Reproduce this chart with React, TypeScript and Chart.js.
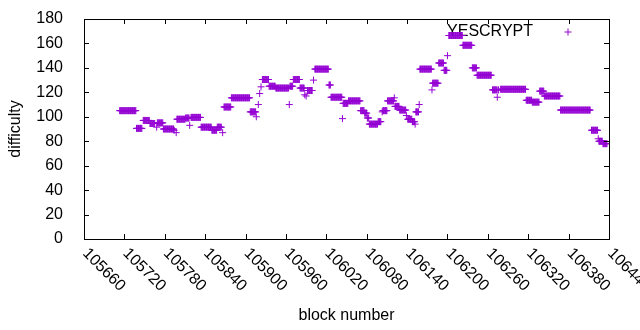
import React, { useEffect, useRef } from 'react';
import { Chart, registerables } from 'chart.js';

Chart.register(...registerables);

// ---- data ----
const seriesLabel = 'YESCRYPT';
const xTitle = 'block number';
const yTitle = 'difficulty';
const xMin = 105660;
const xMax = 106440;
const xStep = 60;
const yMin = 0;
const yMax = 180;
const yStep = 20;

// runs of consecutive blocks sharing one difficulty value
const runStart = [
  105713, 105738, 105748, 105758, 105768, 105769, 105778, 105794, 105797, 105798,
  105811, 105817, 105819, 105834, 105850, 105858, 105866, 105868, 105879, 105907,
  105916, 105919, 105921, 105923, 105925, 105935, 105945, 105965, 105966, 105971,
  105981, 105988, 105990, 105992, 106001, 106003, 106024, 106027, 106044, 106045,
  106053, 106071, 106077, 106081, 106084, 106097, 106103, 106104, 106111, 106121,
  106122, 106129, 106139, 106141, 106148, 106152, 106153, 106158, 106159, 106177,
  106178, 106187, 106195, 106200, 106202, 106223, 106237, 106244, 106267, 106274,
  106275, 106279, 106317, 106326, 106337, 106344, 106368, 106414, 106424, 106425,
  106431,
];
const runEnd = [
  105737, 105746, 105757, 105765, 105768, 105777, 105793, 105794, 105797, 105810,
  105816, 105817, 105833, 105849, 105857, 105864, 105866, 105878, 105906, 105915,
  105916, 105919, 105921, 105923, 105934, 105944, 105964, 105965, 105970, 105980,
  105987, 105988, 105990, 105999, 106001, 106023, 106026, 106043, 106044, 106052,
  106070, 106076, 106080, 106083, 106096, 106101, 106103, 106110, 106120, 106121,
  106128, 106138, 106139, 106147, 106151, 106152, 106157, 106158, 106176, 106177,
  106186, 106194, 106199, 106200, 106222, 106236, 106243, 106265, 106273, 106274,
  106276, 106316, 106325, 106336, 106343, 106367, 106412, 106423, 106424, 106430,
  106437,
];
const runValue = [
  105, 90.5, 97, 94.5, 91.5, 95, 90, 89, 87, 98,
  99, 93, 99.5, 91.5, 89, 91.5, 87, 108, 115.5, 104,
  100, 110, 119, 124.5, 130.5, 125, 123.5, 110, 125, 130.5,
  123.5, 118, 117, 121.5, 130, 139, 126, 116, 98.5, 111,
  113, 105, 103, 99, 94, 96, 104, 105, 113, 115.5,
  108.5, 105.5, 101, 98, 96, 94, 104, 110, 139, 122,
  127.5, 144, 138, 150, 166.5, 158.5, 140, 134, 122, 116,
  122, 122.5, 113.5, 112, 121, 117, 105.5, 89, 82, 80,
  78,
];

const COLOR = '#9400D3';
const FONT = "'Liberation Sans', Arial, sans-serif";

function buildPoints() {
  const pts: { x: number; y: number }[] = [];
  for (let i = 0; i < runStart.length; i++) {
    for (let b = runStart[i]; b <= runEnd[i]; b++) {
      pts.push({ x: b, y: runValue[i] });
    }
  }
  return pts;
}

const framePlugin = {
  id: 'gnuplotFrame',
  beforeDatasetsDraw(chart: any) {
    const { ctx, chartArea } = chart;
    ctx.save();
    ctx.fillStyle = '#000';
    ctx.font = `16px ${FONT}`;
    ctx.textAlign = 'right';
    ctx.textBaseline = 'middle';
    ctx.fillText(seriesLabel, chartArea.right - 76, chartArea.top + 13);
    ctx.restore();
  },
  afterDatasetsDraw(chart: any) {
    const { ctx, chartArea } = chart;
    const xs = chart.scales.x;
    const ys = chart.scales.y;
    const L = chartArea.left, R = chartArea.right, T = chartArea.top, B = chartArea.bottom;
    const tl = 5;
    ctx.save();
    ctx.strokeStyle = '#000';
    ctx.lineWidth = 1;
    ctx.beginPath();
    for (const t of ys.ticks) {
      const py = Math.round(ys.getPixelForValue(t.value)) + 0.5;
      ctx.moveTo(L, py); ctx.lineTo(L + tl, py);
      ctx.moveTo(R, py); ctx.lineTo(R - tl, py);
    }
    for (const t of xs.ticks) {
      const px = Math.round(xs.getPixelForValue(t.value)) + 0.5;
      ctx.moveTo(px, B); ctx.lineTo(px, B - tl);
      ctx.moveTo(px, T); ctx.lineTo(px, T + tl);
    }
    ctx.stroke();
    ctx.strokeRect(Math.round(L) + 0.5, Math.round(T) + 0.5, Math.round(R - L), Math.round(B - T));

    // rotated x tick labels
    ctx.fillStyle = '#000';
    ctx.font = `16px ${FONT}`;
    ctx.textAlign = 'left';
    ctx.textBaseline = 'middle';
    for (const t of xs.ticks) {
      const px = xs.getPixelForValue(t.value);
      ctx.save();
      ctx.translate(px + 1, B + 12);
      ctx.rotate(Math.PI / 4);
      ctx.fillText(String(t.value), 0, 0);
      ctx.restore();
    }

    // key sample
    const kx = R - 41, ky = T + 13, r = 3.5;
    ctx.strokeStyle = COLOR;
    ctx.beginPath();
    ctx.moveTo(kx - r, ky); ctx.lineTo(kx + r, ky);
    ctx.moveTo(kx, ky - r); ctx.lineTo(kx, ky + r);
    ctx.stroke();
    ctx.restore();
  },
};

export default function App() {
  const ref = useRef<HTMLCanvasElement | null>(null);
  useEffect(() => {
    if (!ref.current) return;
    const chart = new Chart(ref.current, {
      type: 'scatter',
      data: {
        datasets: [
          {
            label: seriesLabel,
            data: buildPoints(),
            pointStyle: 'cross',
            pointRadius: 3.5,
            pointHoverRadius: 3.5,
            borderColor: COLOR,
            backgroundColor: COLOR,
            borderWidth: 1,
            showLine: false,
          },
        ],
      },
      options: {
        animation: false,
        responsive: false,
        devicePixelRatio: 1,
        layout: { padding: { top: 19, right: 31, left: 0, bottom: 0 } },
        plugins: { legend: { display: false }, tooltip: { enabled: false } },
        scales: {
          x: {
            type: 'linear',
            min: xMin,
            max: xMax,
            grid: { display: false },
            border: { display: false },
            ticks: { stepSize: xStep, display: false },
            title: {
              display: true,
              text: xTitle,
              color: '#000',
              font: { family: FONT, size: 16 },
              padding: { top: 0, bottom: 5 },
            },
            afterFit: (s: any) => {
              s.height = 91;
              s.paddingLeft = 0;
              s.paddingRight = 0;
            },
          },
          y: {
            type: 'linear',
            min: yMin,
            max: yMax,
            grid: { display: false },
            border: { display: false },
            ticks: {
              stepSize: yStep,
              color: '#000',
              padding: 13,
              font: { family: FONT, size: 16 },
            },
            title: {
              display: true,
              text: yTitle,
              color: '#000',
              font: { family: FONT, size: 16 },
              padding: { top: 6, bottom: 0 },
            },
            afterFit: (s: any) => {
              s.width = 84;
              s.paddingTop = 0;
              s.paddingBottom = 0;
            },
          },
        },
      },
      plugins: [framePlugin],
    });
    return () => chart.destroy();
  }, []);
  return (
    <div style={{ position: 'fixed', left: 0, top: 0, width: 640, height: 330, background: '#fff' }}>
      <canvas ref={ref} width={640} height={330} />
    </div>
  );
}
